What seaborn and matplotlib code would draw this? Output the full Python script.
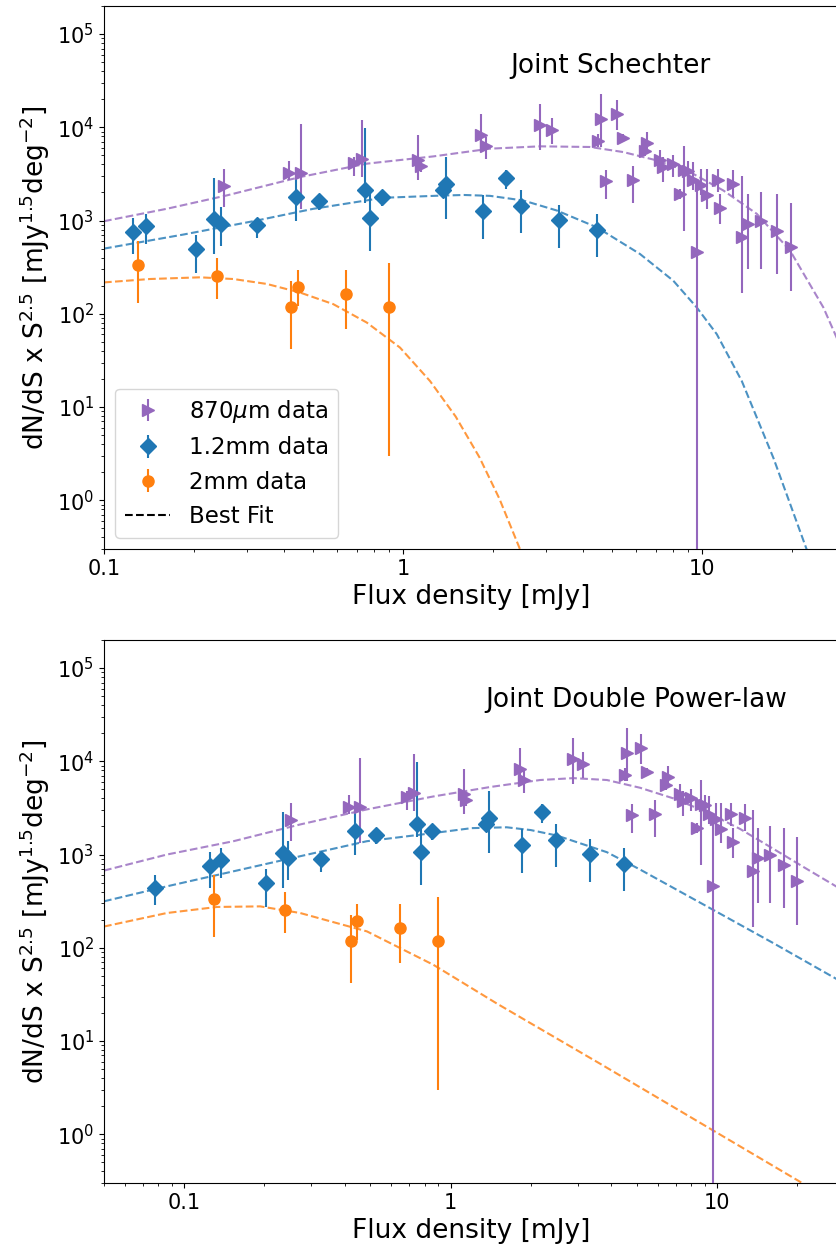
import numpy as np
import pandas as pd
import matplotlib
matplotlib.use("Agg")
import matplotlib.pyplot as plt
import seaborn as sns
from matplotlib.lines import Line2D
from matplotlib.ticker import FuncFormatter, NullFormatter

# ---------------- data ----------------
# 870 micron number counts
s_870 = [0.251, 0.416, 0.456, 0.686, 0.728, 1.125, 1.145, 1.82, 1.89, 2.87, 3.14,
         4.50, 4.58, 5.18, 5.46, 4.78, 5.87, 6.53, 6.45, 7.24, 7.43, 8.02, 8.44,
         8.73, 9.00, 9.35, 9.65, 9.95, 10.4, 11.3, 11.5, 12.7, 13.6, 14.3, 15.8,
         17.8, 19.9]
v_870 = [2320, 3230, 3230, 4130, 4610, 4420, 3800, 8200, 6300, 10700, 9290,
         7130, 12400, 13800, 7750, 2630, 2690, 6780, 5560, 4420, 3740, 4070, 1940,
         3510, 3390, 2690, 456, 2380, 1860, 2690, 1370, 2480, 661, 922, 1000,
         781, 525]
lo_870 = [1390, 2690, 1340, 2970, 2920, 2690, 3300, 5660, 4610, 5660, 6560,
          6140, 6140, 9290, 7000, 1710, 1540, 5420, 4900, 3310, 2580, 2920, 1700,
          780, 2700, 2100, 0.01, 1860, 1340, 2010, 922, 1780, 169, 303, 303,
          267, 177]
hi_870 = [3600, 4310, 10960, 4800, 11890, 8200, 4300, 14030, 7870, 17990, 12700,
          8550, 22650, 19860, 8500, 3450, 3810, 8900, 6300, 5660, 4800, 5000, 2200,
          6250, 4400, 4240, 2690, 3600, 3600, 3600, 1940, 3510, 2970, 1940, 2010,
          1940, 1540]

# 1.2 mm number counts
s_12 = [0.0774, 0.125, 0.138, 0.203, 0.234, 0.246, 0.326, 0.4375, 0.525, 0.748,
        0.776, 0.849, 1.364, 1.39, 1.848, 2.206, 2.481, 3.333, 4.465]
v_12 = [434, 762, 869, 491, 1043, 922, 899, 1798, 1614, 2102,
        1059, 1798, 2102, 2482, 1259, 2851, 1449, 1017, 800]
lo_12 = [290, 442, 566, 276, 442, 538, 656, 1000, 1303, 1524,
         476, 1449, 1800, 1043, 636, 2193, 730, 504, 403]
hi_12 = [609, 1077, 1189, 707, 2829, 1380, 1077, 2829, 1858, 9750,
         2102, 2102, 2450, 4797, 1858, 3451, 2138, 1486, 1181]

# 2 mm number counts
s_2 = [0.1297, 0.2393, 0.4222, 0.4444, 0.6447, 0.90]
v_2 = [334, 252, 119, 195, 161, 119]
lo_2 = [129, 144, 41.7, 120, 68.5, 3.0]
hi_2 = [609, 397, 226, 297, 297, 347]

# Best-fit curves, top panel (joint Schechter)
sch_s_870 = [0.1, 0.162, 0.257, 0.452, 0.756, 1.263, 1.954, 2.872, 4.222, 5.455,
             7.054, 9.12, 11.78, 15.24, 19.70, 25.45, 28.6]
sch_v_870 = [984, 1336, 1858, 2924, 4073, 4875, 5900, 6250, 6150, 5425,
             4418, 3306, 2102, 1181, 476, 117, 50]
sch_s_12 = [0.1, 0.184, 0.324, 0.501, 0.859, 1.33, 1.6, 1.954, 2.525, 3.266, 4.445,
            6.2, 8.017, 9.6, 11.2, 13.58, 17.32, 22.4, 24.0]
sch_v_12 = [500, 707, 1000, 1336, 1754, 1850, 1880, 1840, 1641, 1282, 847,
            438, 226, 117, 60.5, 19.0, 2.85, 0.295, 0.15]
sch_s_2 = [0.1, 0.1426, 0.2094, 0.2706, 0.35, 0.4524, 0.584, 0.756, 0.977, 1.231,
           1.5, 1.8, 2.1, 2.46, 2.7]
sch_v_2 = [217, 236, 246, 236, 209, 169, 127, 80.6, 43.4, 19.0,
           7.9, 2.9, 1.04, 0.30, 0.13]

# Best-fit curves, bottom panel (joint double power-law)
dpl_s_870 = [0.05, 0.0861, 0.1531, 0.2725, 0.485, 0.8627, 1.408, 2.17, 2.893, 3.862,
             5.148, 6.866, 9.166, 12.22, 16.3, 21.75, 28.6]
dpl_v_870 = [673, 1000, 1390, 2102, 3048, 4200, 5300, 6300, 6600, 6300,
             5200, 4000, 2850, 1880, 1150, 700, 440]
dpl_s_12 = [0.05, 0.0861, 0.1531, 0.2725, 0.485, 0.8627, 1.2, 1.626, 2.0, 2.506,
            3.862, 5.148, 9.166, 16.3, 28.6]
dpl_v_12 = [315, 456, 661, 959, 1390, 1700, 1920, 1960, 1830, 1600,
            1060, 690, 278, 112, 45]
dpl_s_2 = [0.05, 0.0861, 0.1327, 0.1929, 0.2725, 0.485, 0.8627, 1.5, 3.645, 20.88, 28.6]
dpl_v_2 = [169, 236, 274, 278, 236, 150, 65.6, 25, 5.7, 0.30, 0.176]

labels = ["870$\\mu$m data", "1.2mm data", "2mm data", "Best Fit"]
panel_titles = ["Joint Schechter", "Joint Double Power-law"]

C870, C12, C2 = "#9467bd", "#1f77b4", "#ff7f0e"

# ---------------- style ----------------
sns.set_style("ticks")
plt.rcParams.update({
    "font.family": ["DejaVu Sans"],
    "axes.edgecolor": "black",
    "axes.linewidth": 0.8,
    "text.color": "black",
    "axes.labelcolor": "black",
    "xtick.color": "black",
    "ytick.color": "black",
    "xtick.direction": "out",
    "ytick.direction": "out",
    "xtick.major.size": 3.5,
    "ytick.major.size": 3.5,
    "xtick.minor.size": 2,
    "ytick.minor.size": 2,
    "xtick.major.width": 0.8,
    "ytick.major.width": 0.8,
    "xtick.minor.width": 0.6,
    "ytick.minor.width": 0.6,
    "mathtext.fontset": "dejavusans",
})

W, H = 837, 1255
fig = plt.figure(figsize=(W / 100, H / 100), dpi=100)
ax1 = fig.add_axes([104 / W, 1 - 549 / H, 734.5 / W, 543 / H])
ax2 = fig.add_axes([104 / W, 1 - 1183 / H, 734.5 / W, 543 / H])


def draw_fit(ax, s, v, color):
    df = pd.DataFrame({"S": s, "V": v})
    sns.lineplot(data=df, x="S", y="V", ax=ax, color=color, linestyle="--",
                 linewidth=1.5, alpha=0.8, estimator=None, sort=False,
                 legend=False, zorder=2)


def draw_points(ax, s, v, lo, hi, color, marker):
    s = np.asarray(s, float)
    v = np.asarray(v, float)
    yerr = np.vstack([v - np.asarray(lo, float), np.asarray(hi, float) - v])
    return ax.errorbar(s, v, yerr=yerr, fmt=marker, color=color, ms=8,
                       elinewidth=1.5, capsize=0, zorder=3)


fits = [
    [(sch_s_870, sch_v_870, C870), (sch_s_12, sch_v_12, C12), (sch_s_2, sch_v_2, C2)],
    [(dpl_s_870, dpl_v_870, C870), (dpl_s_12, dpl_v_12, C12), (dpl_s_2, dpl_v_2, C2)],
]
xlims = [(0.1, 28.6), (0.05, 28.6)]
ylims = [(0.3, 2e5), (0.3, 2e5)]
title_x = [0.690, 0.724]

for i, ax in enumerate([ax1, ax2]):
    ax.set_xscale("log")
    ax.set_yscale("log")
    for s, v, c in fits[i]:
        draw_fit(ax, s, v, c)
    h1 = draw_points(ax, s_870, v_870, lo_870, hi_870, C870, ">")
    h2 = draw_points(ax, s_12, v_12, lo_12, hi_12, C12, "D")
    h3 = draw_points(ax, s_2, v_2, lo_2, hi_2, C2, "o")
    ax.set_xlim(*xlims[i])
    ax.set_ylim(*ylims[i])
    ax.xaxis.set_major_formatter(FuncFormatter(lambda val, pos: f"{val:g}"))
    ax.xaxis.set_minor_formatter(NullFormatter())
    ax.tick_params(axis="both", which="major", labelsize=15)
    ax.set_xlabel("Flux density [mJy]", fontsize=19)
    ax.set_ylabel("dN/dS x S$^{2.5}$ [mJy$^{1.5}$deg$^{-2}$]", fontsize=19)
    ax.text(title_x[i], 0.877, panel_titles[i], transform=ax.transAxes,
            ha="center", va="baseline", fontsize=19)
    if i == 0:
        fit_handle = Line2D([], [], color="black", linestyle="--", linewidth=1.5)
        ax.legend([h1, h2, h3, fit_handle], labels, loc="lower left",
                  fontsize=16.5)

fig.savefig("out.png", dpi=100)
